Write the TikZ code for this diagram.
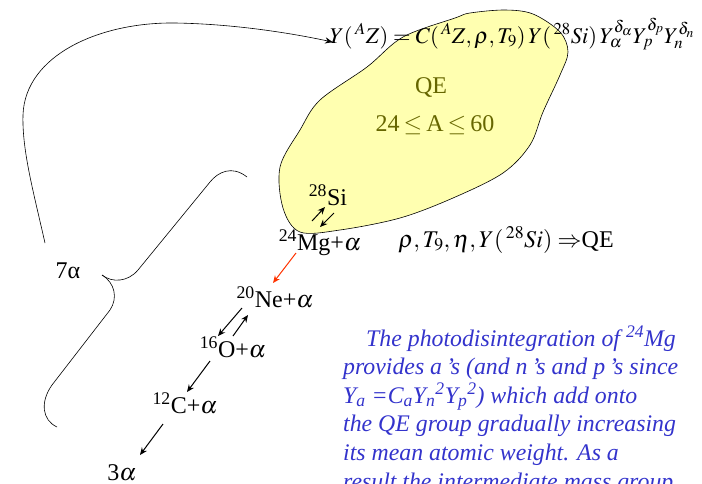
\documentclass[tikz,border=0pt]{standalone}
\usepackage{mathptmx}
\usepackage[no-math]{fontspec}
\setmainfont{Liberation Serif}
\usetikzlibrary{arrows.meta,positioning}
\definecolor{blk}{HTML}{000000}
\definecolor{qefill}{HTML}{FFFFB0}
\definecolor{qetxt}{HTML}{666600}
\definecolor{rarr}{HTML}{FF3300}
\definecolor{note}{HTML}{3333CC}
\tikzset{
  >={Stealth[length=2.6mm,width=2.2mm]},
  iso/.style={font=\fontsize{24}{28}\selectfont, inner sep=0pt, anchor=base},
  eqn/.style={font=\fontsize{22.5}{28}\selectfont, inner sep=0pt, anchor=base},
  qe/.style={iso, text=qetxt},
  notebox/.style={font=\fontsize{23.8}{28.6}\selectfont\itshape, text=note, inner sep=0pt,
                  align=left, anchor=base west},
  l/.style={->, line width=1pt, draw=blk},
}
\begin{document}
\begin{tikzpicture}[x=1pt,y=-1pt]
  \useasboundingbox (0,0) rectangle (702,483);
  % QE group
  \draw[fill=qefill, line width=0.6pt] plot[smooth cycle, tension=0.55] coordinates {
    (470,13) (505,10) (533,14) (560,32) (568,52) (560,75) (543,112) (530,145)
    (503,173) (453,198) (400,218) (340,230) (300,232) (283,208) (280,167)
    (300,130) (320,100) (367,67) (403,37) (455,18)};
  \node[qe](qe) at (431,93){QE};
  \node[qe](rng) at (435,131){24\,$\le$\,A\,$\le$\,60};
  \node[eqn](eq) at (512,43){$Y(\,{}^{A}Z) = C(\,{}^{A}Z,\rho,T_9)\,Y(\,{}^{28}Si)\,Y_\alpha^{\delta_\alpha}Y_p^{\delta_p}Y_n^{\delta_n}$};
  \node[iso](si) at (328,205){\textsuperscript{28}Si};
  \node[iso](mg) at (320,250){\textsuperscript{24}Mg+$\alpha$};
  \node[iso](cond) at (506,247){$\rho,T_9,\eta,Y(\,{}^{28}Si)\Rightarrow$QE};
  \node[iso](ne) at (275,307){\textsuperscript{20}Ne+$\alpha$};
  \node[iso](ox) at (233,357){\textsuperscript{16}O+$\alpha$};
  \node[iso](cc) at (185,413){\textsuperscript{12}C+$\alpha$};
  \node[iso](tri) at (122,480){3$\alpha$};
  \node[iso](sev) at (68,278){7α};
  \draw[l]([shift={(-8,-29)}]mg.base)--([shift={(-3,2)}]si.base);
  \draw[l]([shift={(6,8)}]si.base)--([shift={(0,-23)}]mg.base);
  \draw[l,draw=rarr]([shift={(-24,3)}]mg.base)--([shift={(-2,-24)}]ne.base);
  \draw[l]([shift={(-33,1)}]ne.base)--([shift={(-15,-21)}]ox.base);
  \draw[l]([shift={(0,-21)}]ox.base)--([shift={(-27,8)}]ne.base);
  \draw[l]([shift={(-23,4)}]ox.base)--([shift={(2,-21)}]cc.base);
  \draw[l]([shift={(-22,11)}]cc.base)--([shift={(18,-25)}]tri.base);
  % 7 alpha link to the equation
  \draw[->, line width=0.6pt]([shift={(-23,-35)}]sev.base) .. controls +(-12,-53) and (22,150) .. (23,115)
    .. controls (25,55) and (100,22) .. (175,23) .. controls (240,24) and (300,35) .. ([shift={(3,-1)}]eq.base west);
  % brace
  \draw[line width=0.6pt](247,177) .. controls (232,165) and (218,172) .. (210,182) -- (138,270)
    .. controls (128,282) and (112,283) .. (102,275);
  \draw[line width=0.6pt](102,275) .. controls (115,283) and (118,298) .. (110,310) -- (52,385)
    .. controls (40,402) and (42,420) .. (57,427);
  \node[notebox](txt) at (343,489){\hspace*{23pt}The photodisintegration of \textsuperscript{24}Mg\\
    provides a\,’s (and n\,’s and p\,’s since\\
    Y\textsubscript{a} =C\textsubscript{a}Y\textsubscript{n}\textsuperscript{2}Y\textsubscript{p}\textsuperscript{2}) which add onto\\
    the QE group gradually increasing\\
    its mean atomic weight. As a\\
    result the intermediate mass group};
\end{tikzpicture}
\end{document}
